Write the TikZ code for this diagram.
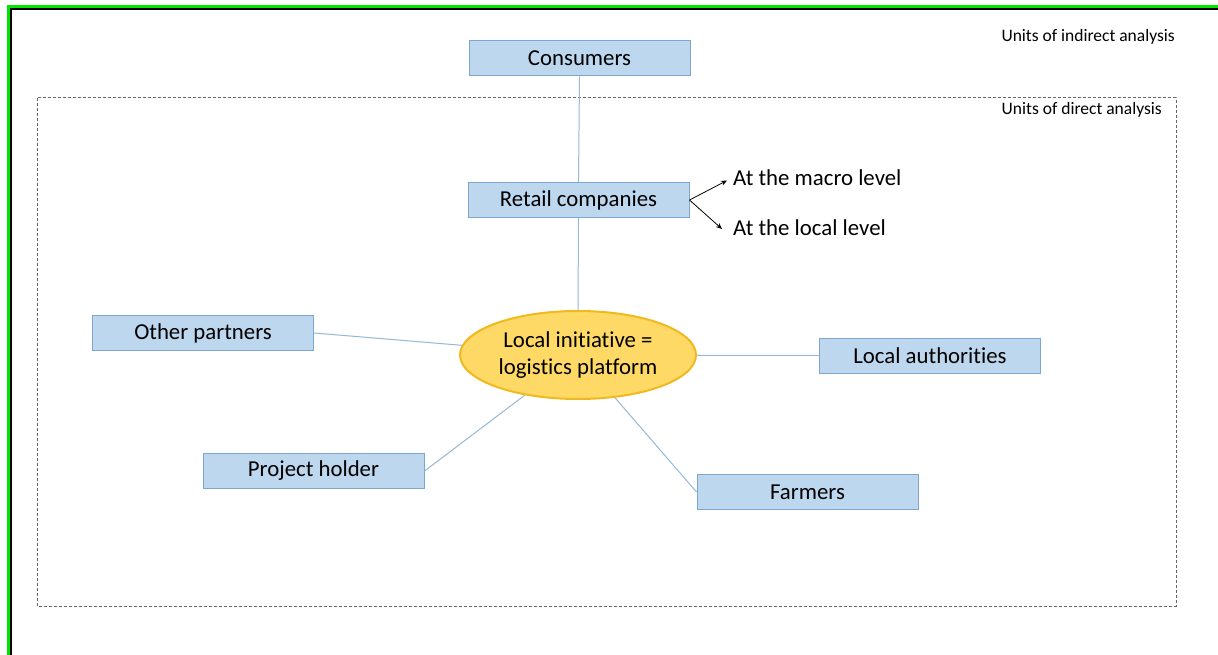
\documentclass[tikz,border=0pt]{standalone}
\usepackage{fontspec}
\setmainfont{Carlito}[Ligatures=NoCommon]
\usetikzlibrary{arrows.meta,shapes.geometric}
\definecolor{boxfill}{RGB}{189,215,238}
\definecolor{boxline}{RGB}{126,166,206}
\definecolor{linkcol}{RGB}{150,185,215}
\definecolor{ellfill}{RGB}{255,217,102}
\definecolor{ellline}{RGB}{240,185,30}
\definecolor{frgreen}{RGB}{0,230,0}
\tikzset{
  unitbox/.style={draw=boxline, fill=boxfill, line width=1pt, minimum width=221pt, minimum height=35pt, inner sep=0pt, font=\fontsize{22.8}{26}\selectfont},
  hub/.style={ellipse, draw=ellline, fill=ellfill, line width=2pt, minimum width=236pt, minimum height=88pt, inner sep=0pt, align=center, font=\fontsize{22.8}{27}\selectfont},
  link/.style={draw=linkcol, line width=1pt},
  levelarrow/.style={draw=black, line width=0.8pt, -{Stealth[length=6pt,width=5pt]}},
  leveltext/.style={anchor=west, inner sep=0pt, font=\fontsize{22.8}{26}\selectfont},
  smalltext/.style={inner sep=0pt, font=\fontsize{17.5}{20}\selectfont},
  frame/.style={dash pattern=on 3pt off 2pt, draw=black!60, line width=1pt}
}
\begin{document}
\begin{tikzpicture}[x=1pt,y=-1pt]
\useasboundingbox (0,0) rectangle (1218,655);
\fill[white] (0,0) rectangle (1218,655);
% outer frame
\draw[frgreen, line width=3pt] (8.5,655) -- (8.5,6.5) -- (1218,6.5);
\draw[black, line width=1.5pt] (11,655) -- (11,9) -- (1218,9);
% direct analysis frame
\draw[frame] (37,98) rectangle (1176,606);
\node[smalltext, anchor=east] (ind) at (1175,37) {Units of indirect analysis};
\node[smalltext, anchor=east] (dir) at (1162,110) {Units of direct analysis};
% nodes
\node[unitbox] (cons) at (579.5,58.5) {Consumers};
\node[unitbox] (ret) at (578.5,200) {Retail companies};
\node[hub] (ell) at (578,355) {Local initiative =\\logistics platform};
\node[unitbox] (op) at (203,333) {Other partners};
\node[unitbox] (la) at (930,355.5) {Local authorities};
\node[unitbox] (ph) at (313.5,471) {Project holder};
\node[unitbox] (far) at (807.5,492) {Farmers};
\node[leveltext] (macro) at (733,178) {At the macro level};
\node[leveltext] (local) at (733,228) {At the local level};
\coordinate (macroend) at (727,180.5);
\coordinate (localend) at (722,229);
% connectors
\draw[link] (cons.south) -- (ret.north);
\draw[link] (ret.south) -- (ell.north);
\draw[link] (op.east) -- (ell);
\draw[link] (la.west) -- (ell);
\draw[link] (ph.east) -- (ell);
\draw[link] (far.west) -- (ell);
\draw[levelarrow] (ret.east) -- (macroend);
\draw[levelarrow] (ret.east) -- (localend);
\end{tikzpicture}
\end{document}
